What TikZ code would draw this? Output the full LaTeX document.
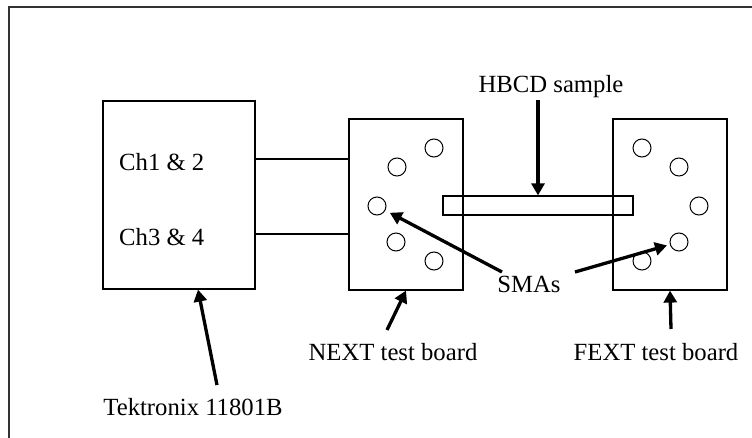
\documentclass[tikz,border=0pt]{standalone}
\usepackage{fontspec}
\setmainfont{Liberation Serif}
\usetikzlibrary{arrows.meta}

\begin{document}
\begin{tikzpicture}[x=1pt,y=-1pt,
    box/.style={draw, line width=1.2pt, inner sep=0pt},
    sma/.style={draw, circle, line width=1pt, minimum size=18pt, inner sep=0pt},
    lbl/.style={font=\fontsize{24.7}{28}\selectfont, inner sep=0pt},
    ptr/.style={line width=3.3pt, -{Triangle[length=12pt,width=13pt]}}]
      \useasboundingbox (0,0) rectangle (752,438);
      \draw[line width=1.8pt, black!80] (752,7) -| (9,438);

      % scope and the two boards
      \node[box, minimum width=152pt, minimum height=188pt] (tek)  at (179,195)   {};
      \node[box, minimum width=114pt, minimum height=171pt] (next) at (406,204.5) {};
      \node[box, minimum width=114pt, minimum height=171pt] (fext) at (670,204.5) {};
      \node[box, minimum width=190pt, minimum height=19pt]  (hbcd) at (538,205.5) {};

      \node[lbl, anchor=west] (ch12) at (119,162) {Ch1 \& 2};
      \node[lbl, anchor=west] (ch34) at (119,237) {Ch3 \& 4};
      \coordinate (w1) at (0,159);
      \coordinate (w2) at (0,234);
      \draw[line width=1.2pt] (tek.east |- w1) -- (next.west |- w1);
      \draw[line width=1.2pt] (tek.east |- w2) -- (next.west |- w2);

      % SMA connectors
      \foreach \n/\x/\y in {1/434/148, 2/397/167, 3/377/206, 4/396/242, 5/434/261}
        \node[sma] (n\n) at (\x,\y) {};
      \foreach \n/\x/\y in {1/642/148, 2/679/167, 3/699/206, 4/679/242, 5/642/261}
        \node[sma] (f\n) at (\x,\y) {};

      \node[lbl] (hbcdl) at (551,87)  {HBCD sample};
      \node[lbl] (smal)  at (529,284) {SMAs};
      \node[lbl] (tekl)  at (193,407) {Tektronix 11801B};
      \node[lbl] (nextl) at (393,352) {NEXT test board};
      \node[lbl] (fextl) at (656,352) {FEXT test board};

      % pointers
      \coordinate (ht) at (538,100);
      \coordinate (sl) at (502,272);
      \coordinate (sr) at (575,272);
      \coordinate (tt) at (217,385);
      \coordinate (nt) at (387,330);
      \coordinate (ft) at (671,329);
      \draw[ptr] (ht) -- (hbcd.north);
      \draw[ptr, shorten >=5pt] (sl) -- (n3);
      \draw[ptr, shorten >=3pt] (sr) -- (f4);
      \draw[ptr] (tt) -- ([xshift=19pt]tek.south);
      \draw[ptr] (nt) -- (next.south);
      \draw[ptr] (ft) -- (fext.south);
    \end{tikzpicture}
\end{document}
